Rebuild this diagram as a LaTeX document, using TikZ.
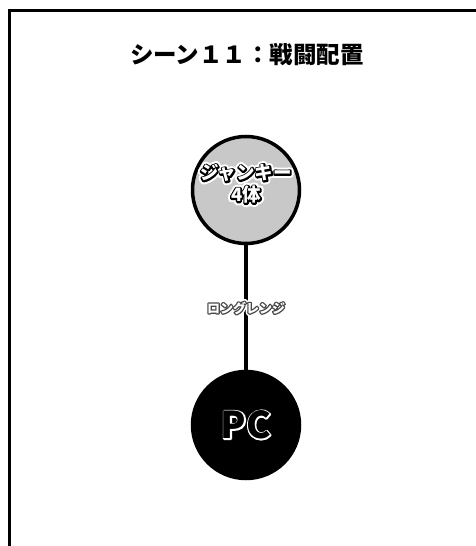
\documentclass[tikz,border=0pt]{standalone}
\usepackage{fontspec}
\newfontfamily\jp{Noto Sans CJK JP Black}
\definecolor{circgray}{RGB}{200,200,200}
\definecolor{labgray}{RGB}{70,70,70}
\newcommand\strokeon[1]{\special{pdf:literal direct 1 j 1 J #1 w 1 Tr}}
\newcommand\strokeoff{\special{pdf:literal direct 0 Tr}}
\begin{document}
\begin{tikzpicture}[x=1pt,y=-1pt,
  unit/.style={circle,draw=black,line width=3.5pt,minimum size=107pt,inner sep=0pt},
  conn/.style={line width=4.5pt,black},
  txt/.style={font=\jp,align=center,inner sep=0pt},
  big/.style={font=\jp\fontsize{18.5}{22}\selectfont},
  small/.style={font=\jp\fontsize{13}{15}\selectfont},
  pcfont/.style={font=\jp\fontsize{37}{40}\selectfont}]
\useasboundingbox (0,0) rectangle (476,546);
\draw[line width=2.5pt] (9.5,560) -- (9.5,10.5) -- (490,10.5);
\node[txt,font=\jp\fontsize{23.5}{25}\selectfont] (title) at (247,55) {シーン１１：戦闘配置};
\node[unit,fill=circgray] (junk) at (246,190) {};
\node[unit,fill=black] (pc) at (246,425) {};
\draw[conn] (junk.south) -- (pc.north);
% enemy label: white halo, black outline, white fill
\node[txt,big,text=white] (junkhalo) at (246,184) {\strokeon{7}ジャンキー\\4体\strokeoff};
\node[txt,big,text=black] (junkline) at (246,184) {\strokeon{3}ジャンキー\\4体\strokeoff};
\node[txt,big,text=white] (junktxt) at (246,184) {ジャンキー\\4体};
% range label
\node[txt,small,text=white] (rangehalo) at (246,308) {\strokeon{5.5}ロングレンジ\strokeoff};
\node[txt,small,text=labgray] (rangeline) at (246,308) {\strokeon{2.4}ロングレンジ\strokeoff};
\node[txt,small,text=white] (range) at (246,308) {ロングレンジ};
% PC label
\node[txt,pcfont,text=white] (pcline) at (246,425) {\strokeon{2.6}PC\strokeoff};
\node[txt,pcfont,text=black] (pctxt) at (246,425) {PC};
\end{tikzpicture}
\end{document}
